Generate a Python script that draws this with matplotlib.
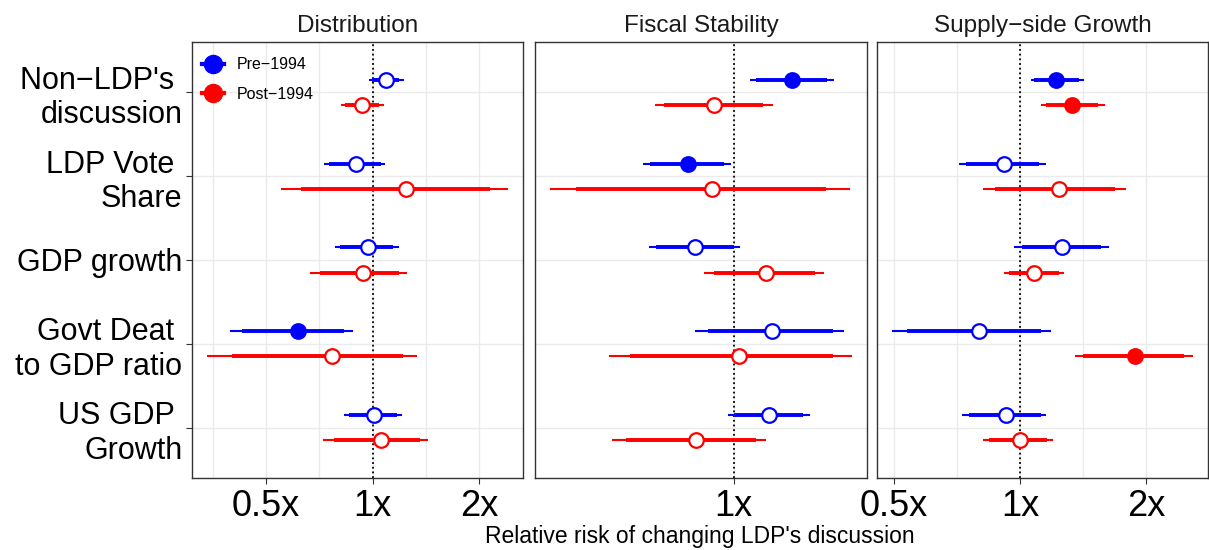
import numpy as np
import matplotlib
matplotlib.use("Agg")
from matplotlib import pyplot as plt
from matplotlib.lines import Line2D

plt.rcParams['font.family'] = ['Liberation Sans', 'DejaVu Sans']

categories = ["Non\u2212LDP's \ndiscussion", "LDP Vote \nShare", "GDP growth",
              "Govt Deat \nto GDP ratio", "US GDP \nGrowth"]
panel_names = ["Distribution", "Fiscal Stability", "Supply\u2212side Growth"]
period_names = ["Pre\u22121994", "Post\u22121994"]

# each row: estimate, lo95, lo90, hi90, hi95 (relative risk)
dist_pre = [[1.093, 0.976, 0.998, 1.191, 1.225],
            [0.900, 0.731, 0.755, 1.058, 1.088],
            [0.970, 0.783, 0.809, 1.141, 1.189],
            [0.616, 0.396, 0.428, 0.830, 0.883],
            [1.008, 0.830, 0.858, 1.174, 1.214]]
dist_post = [[0.935, 0.814, 0.838, 1.046, 1.076],
             [1.244, 0.552, 0.626, 2.144, 2.418],
             [0.939, 0.666, 0.710, 1.191, 1.255],
             [0.767, 0.340, 0.401, 1.222, 1.336],
             [1.055, 0.725, 0.777, 1.362, 1.434]]
fisc_pre = [[1.144, 1.039, 1.054, 1.242, 1.262],
            [0.899, 0.810, 0.823, 0.977, 0.993],
            [0.915, 0.822, 0.836, 1.000, 1.016],
            [1.092, 0.914, 0.942, 1.260, 1.292],
            [1.086, 0.986, 1.000, 1.176, 1.195]]
fisc_post = [[0.956, 0.834, 0.851, 1.070, 1.096],
             [0.950, 0.653, 0.693, 1.239, 1.309],
             [1.078, 0.934, 0.955, 1.207, 1.233],
             [1.012, 0.749, 0.786, 1.260, 1.316],
             [0.916, 0.754, 0.779, 1.054, 1.079]]
supp_pre = [[1.222, 1.060, 1.083, 1.385, 1.426],
            [0.915, 0.714, 0.743, 1.109, 1.151],
            [1.260, 0.969, 1.009, 1.562, 1.632],
            [0.799, 0.495, 0.538, 1.120, 1.189],
            [0.925, 0.727, 0.757, 1.120, 1.157]]
supp_post = [[1.328, 1.121, 1.151, 1.539, 1.596],
             [1.237, 0.814, 0.872, 1.691, 1.796],
             [1.083, 0.918, 0.942, 1.242, 1.276],
             [1.880, 1.350, 1.418, 2.461, 2.589],
             [1.002, 0.814, 0.845, 1.161, 1.197]]

x_breaks = [0.5, 1, 2]
x_labels = ["0.5x", "1x", "2x"]
colors = ["#0000FF", "#FF0000"]
offsets = [-0.15, 0.15]

panels = [(dist_pre, dist_post), (fisc_pre, fisc_post), (supp_pre, supp_post)]
W, H = 1209, 550
bounds = [(192, 523), (535, 867), (877, 1208)]
top, bottom = 42, 478

fig = plt.figure(figsize=(W / 100, H / 100), dpi=100)
yy = np.arange(len(categories))

for i, (name, groups) in enumerate(zip(panel_names, panels)):
    l, r = bounds[i]
    ax = fig.add_axes([l / W, 1 - bottom / H, (r - l) / W, (bottom - top) / H])
    ax.set_xscale('log', base=2)

    allv = np.array(groups).reshape(-1, 5)
    lmin, lmax = np.log2(allv.min()), np.log2(allv.max())
    pad = 0.05 * (lmax - lmin)
    ax.set_xlim(2 ** (lmin - pad), 2 ** (lmax + pad))
    ax.set_ylim(len(categories) - 0.4, -0.6)

    lo, hi = ax.get_xlim()
    major = [b for b in x_breaks if lo <= b <= hi]
    ax.set_xticks(major, [x_labels[x_breaks.index(b)] for b in major])
    if len(major) >= 2:
        lb = np.log2(x_breaks)
        mids = list((lb[:-1] + lb[1:]) / 2) + [lb[0] - 0.5, lb[-1] + 0.5]
        minor = [2 ** m for m in mids if lo <= 2 ** m <= hi]
    else:
        minor = []
    ax.set_xticks(minor, minor=True)
    ax.xaxis.set_minor_formatter(plt.NullFormatter())
    ax.tick_params(axis='x', which='minor', length=0)
    ax.tick_params(axis='x', which='major', length=4, width=0.8, color='#333333',
                   labelsize=26, labelcolor='black', pad=4)
    ax.grid(True, which='both', axis='x', color='#EBEBEB', lw=1.0, zorder=0)

    ax.set_yticks(yy)
    if i == 0:
        ax.set_yticklabels(categories, fontsize=22, color='black')
        ax.tick_params(axis='y', length=4, width=0.8, color='#333333', pad=3)
    else:
        ax.set_yticklabels([])
        ax.tick_params(axis='y', length=0)
    ax.grid(True, which='major', axis='y', color='#EBEBEB', lw=1.0, zorder=0)
    ax.set_axisbelow(True)

    for s in ax.spines.values():
        s.set_color('#333333')
        s.set_linewidth(1.0)

    ax.axvline(1, color='black', ls=(0, (1, 1.6)), lw=1.3, zorder=1.5)

    for g, rows in enumerate(groups):
        rows = np.array(rows)
        y = yy + offsets[g]
        est, lo95, lo90, hi90, hi95 = rows.T
        ax.hlines(y, lo95, hi95, color=colors[g], lw=1.5, zorder=2)
        ax.hlines(y, lo90, hi90, color=colors[g], lw=2.8, zorder=2.1)
        sig = (lo95 > 1) | (hi95 < 1)
        for k in range(len(y)):
            ax.plot(est[k], y[k], 'o', ms=10.5, mew=1.6, mec=colors[g],
                    mfc=colors[g] if sig[k] else 'white', zorder=3)

    ax.set_title(name, fontsize=17.5, color='#1A1A1A', pad=7)

    if i == 0:
        handles = [Line2D([0], [0], color=c, lw=3, marker='o', ms=13) for c in colors]
        ax.legend(handles, period_names, loc='upper left', bbox_to_anchor=(0.03, 0.965),
                  frameon=False, fontsize=11.5, borderpad=0, borderaxespad=0,
                  handlelength=1.4, handletextpad=0.8, labelspacing=0.9)

fig.text(700 / W, 1 - 537 / H, "Relative risk of changing LDP's discussion",
         fontsize=16.5, ha='center', va='center', color='black')

fig.savefig('out.png', dpi=100)
